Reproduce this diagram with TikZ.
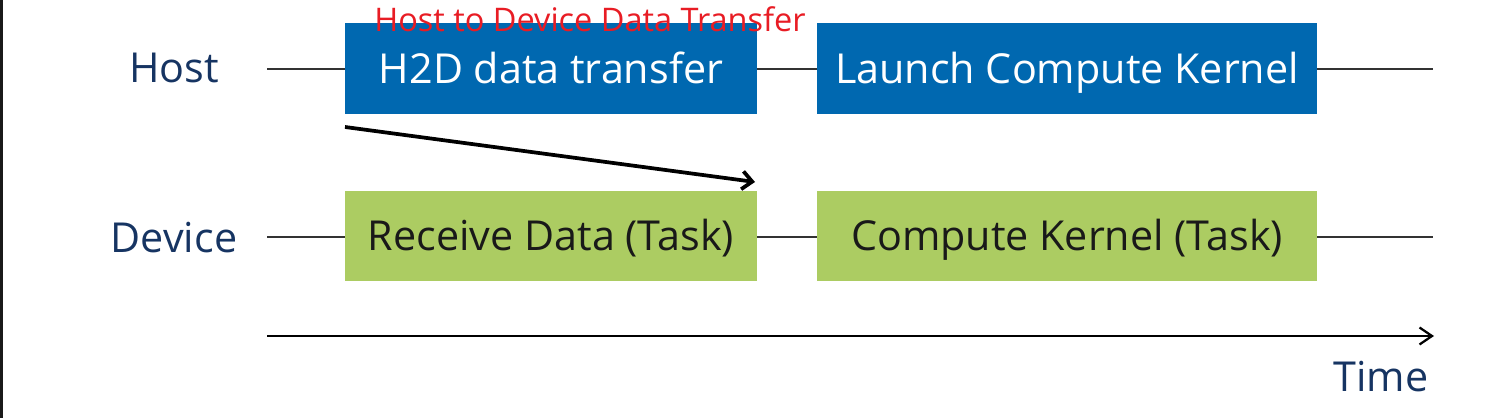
\documentclass[tikz,border=0pt]{standalone}
\usepackage{fontspec}
\setmainfont{Open Sans}
\usetikzlibrary{arrows.meta, positioning}

\definecolor{hostblue}{RGB}{0,104,176}
\definecolor{devgreen}{RGB}{172,204,98}
\definecolor{lanetext}{RGB}{22,52,98}
\definecolor{notered}{RGB}{232,28,36}

\begin{document}
\begin{tikzpicture}[x=0.02cm, y=-0.02cm,
    task/.style={inner sep=0pt, minimum height=1.82cm, text height=16.8pt, text depth=0pt,
      font=\fontsize{23.5}{28}\selectfont},
    hosttask/.style={task, fill=hostblue, text=white},
    devtask/.style={task, fill=devgreen, text=black!90},
    lane/.style={text=lanetext, inner sep=0pt, text height=16.8pt, text depth=0pt,
      font=\fontsize{23.5}{28}\selectfont},
    lline/.style={draw=black!80, line width=0.04cm},
    ]
    % frame
    \useasboundingbox (0,0) rectangle (1492,418);
    \fill[black!90] (0,0) rectangle (3,418);

    % Lanes
    \node[lane] (host) at (174,68) {Host};
    \node[lane] (device) at (174,238) {Device};

    % Host tasks
    \node[hosttask, minimum width=8.24cm] (h2d) at (551,68.5) {H2D data transfer};
    \node[hosttask, minimum width=10cm] (launch) at (1067,68.5) {Launch Compute Kernel};

    % Device tasks
    \node[devtask, minimum width=8.24cm] (recv) at (551,236) {Receive Data (Task)};
    \node[devtask, minimum width=10cm] (kernel) at (1067,236) {Compute Kernel (Task)};

    % Lane lines
    \coordinate (hstart) at (267,69);
    \coordinate (hend) at (1433,69);
    \coordinate (dstart) at (267,237);
    \coordinate (dend) at (1433,237);
    \draw[lline] (hstart) -- (h2d.west |- hstart);
    \draw[lline] (h2d.east |- hstart) -- (launch.west |- hstart);
    \draw[lline] (launch.east |- hstart) -- (hend);
    \draw[lline] (dstart) -- (recv.west |- dstart);
    \draw[lline] (recv.east |- dstart) -- (kernel.west |- dstart);
    \draw[lline] (kernel.east |- dstart) -- (dend);

    % Transfer arrow
    \coordinate (xfrom) at (345,127);
    \coordinate (xto) at (755,182);
    \draw[line width=0.075cm, -{Straight Barb[length=0.2cm, width=0.36cm]}] (xfrom) -- (xto);
    \node[text=notered, inner sep=0pt, text height=13.2pt, text depth=0pt,
      font=\fontsize{18.5}{22}\selectfont] (note) at (590,19.5) {Host to Device Data Transfer};

    % Time axis
    \coordinate (tstart) at (267,336);
    \coordinate (tend) at (1434,336);
    \draw[line width=0.045cm, -{Straight Barb[length=0.25cm, width=0.34cm]}] (tstart) -- (tend);
    \node[lane] (time) at (1381,377) {Time};
\end{tikzpicture}
\end{document}
